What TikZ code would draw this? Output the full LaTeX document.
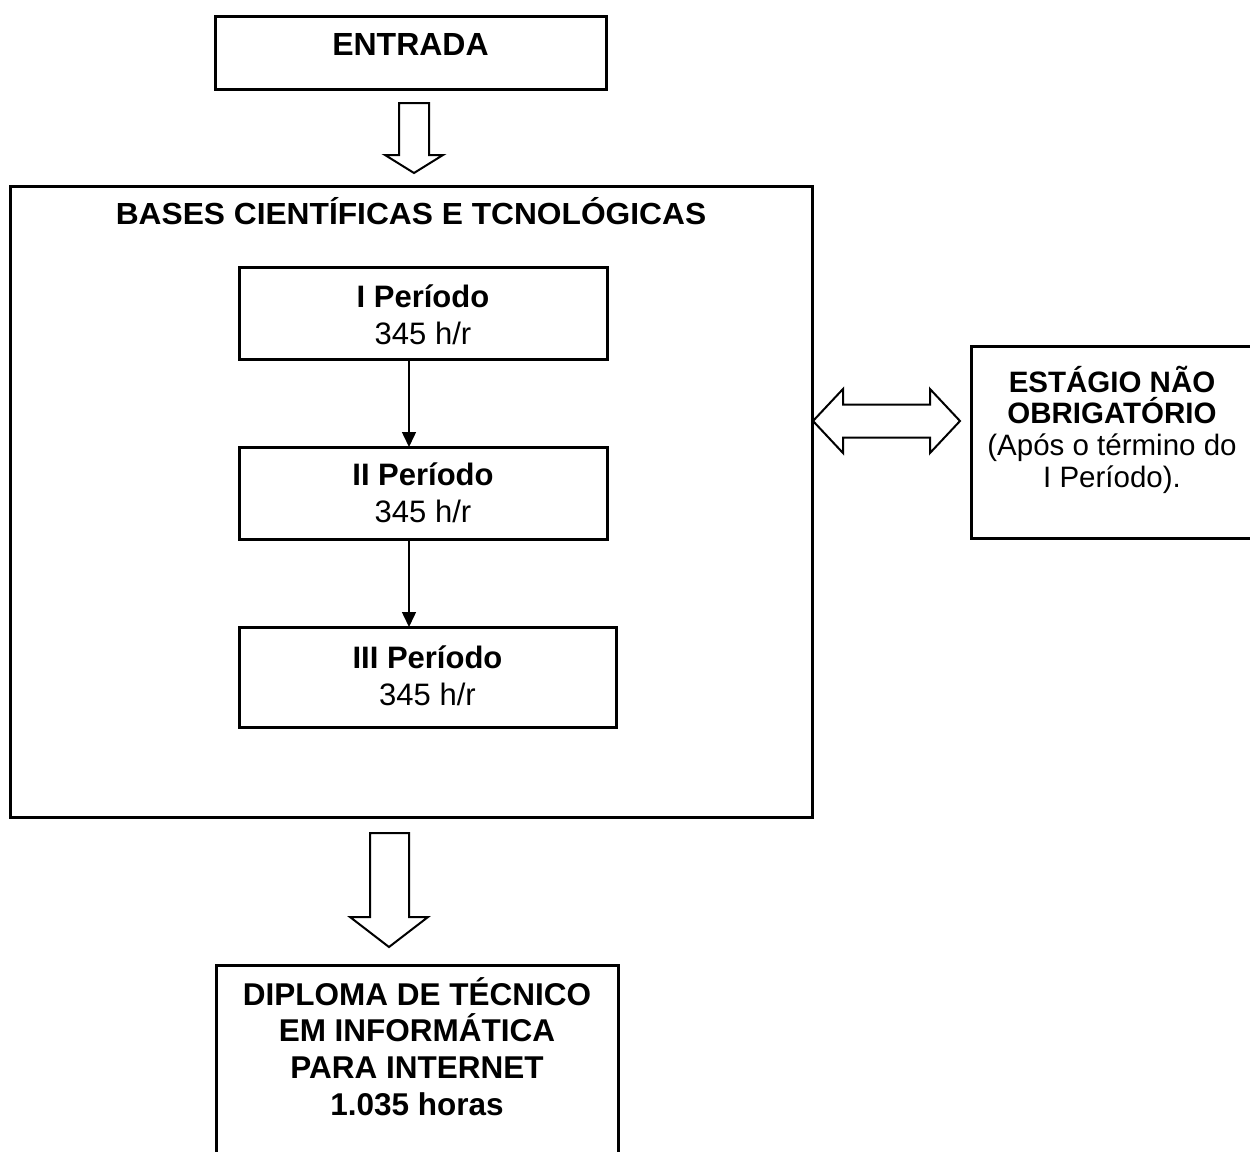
\documentclass[tikz,border=0pt]{standalone}
\usepackage{graphicx}
\usepackage{fontspec}
\setmainfont{Liberation Sans}
\usetikzlibrary{arrows.meta}
% #1 width, #2 height, #3 top gap, #4 baselineskip, #5 font size, #6 text
\newcommand\cellbox[6]{\parbox[c][#2][t]{#1}{\fontsize{#5}{#4}\selectfont\centering\lineskiplimit=-100pt\lineskip=0pt\vspace*{#3}\rule{0pt}{30pt}#6\par}}
\tikzset{
  frame/.style={draw=black, line width=3pt, inner sep=0pt, outer sep=0pt},
  conn/.style={draw=black, line width=1.5pt, -{Triangle[width=14pt,length=15pt]}},
  blockarrow/.style={draw=black, line width=2pt, fill=white, line join=miter},
}
\begin{document}
\begin{tikzpicture}[x=1pt,y=-1pt]
\clip (0,0) rectangle (1250,1151);
\fill[white] (0,0) rectangle (1250,1151);

\node[frame] (entrada) at (410.5,52.5) {\cellbox{391pt}{73pt}{9pt}{36pt}{32}{\bfseries ENTRADA}};

\node[frame] (bases) at (411,501.5) {\cellbox{802pt}{631pt}{8.5pt}{36pt}{30.5}{\bfseries\scalebox{1.04}[1]{BASES CIENTÍFICAS E TCNOLÓGICAS}}};

\node[frame] (p1) at (423,313) {\cellbox{368pt}{92pt}{10pt}{37pt}{31}{\bfseries I Período\\\mdseries 345 h/r}};
\node[frame] (p2) at (423,493) {\cellbox{368pt}{92pt}{8pt}{37pt}{31}{\bfseries II Período\\\mdseries 345 h/r}};
\node[frame] (p3) at (427.5,677) {\cellbox{377pt}{100pt}{11pt}{37pt}{31}{\bfseries III Período\\\mdseries 345 h/r}};

\node[frame] (estagio) at (1112,442) {\cellbox{282pt}{192pt}{16pt}{31.7pt}{29.5}{\bfseries ESTÁGIO NÃO\\OBRIGATÓRIO\\\mdseries (Após o término do\\I Período).}};

\node[frame] (diploma) at (417,1075) {\cellbox{402pt}{220pt}{10pt}{36.7pt}{31.5}{\bfseries DIPLOMA DE TÉCNICO\\EM INFORMÁTICA\\PARA INTERNET\\1.035 horas}};

% thin connectors
\coordinate (ax) at (409,0);
\draw[conn] (p1.south -| ax) -- (p2.north -| ax);
\draw[conn] (p2.south -| ax) -- (p3.north -| ax);

% block arrow: entrada -> bases
\draw[blockarrow] (399,103) -- (429,103) -- (429,155) -- (443,155) -- (414,173) -- (385,155) -- (399,155) -- cycle;

% block arrow: bases -> diploma
\draw[blockarrow] (370,833) -- (409,833) -- (409,917) -- (428,917) -- (389,947) -- (350,917) -- (370,917) -- cycle;

% double block arrow: bases <-> estagio
\draw[blockarrow] (813,421) -- (843,389) -- (843,404.5) -- (930,404.5) -- (930,389) -- (960,421)
  -- (930,453) -- (930,437.5) -- (843,437.5) -- (843,453) -- cycle;
\end{tikzpicture}
\end{document}
